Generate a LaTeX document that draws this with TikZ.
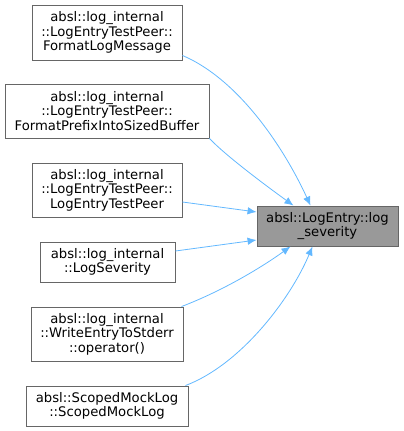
\documentclass[tikz,border=0pt]{standalone}
\usepackage{fontspec}
\setmainfont{DejaVu Sans}
\usetikzlibrary{arrows.meta}
\definecolor{edgecol}{HTML}{63B8FF}
\definecolor{boxborder}{HTML}{666666}
\definecolor{targetfill}{HTML}{999999}
\begin{document}
\begin{tikzpicture}[x=1pt,y=-1pt,
  box/.style={draw=boxborder, fill=white, line width=0.9pt, inner sep=0pt, align=center,
    font=\fontsize{13.2}{14.6}\selectfont, text=black},
  target/.style={box, fill=targetfill},
  edge/.style={draw=edgecol, line width=0.8pt, -{Latex[length=9pt,width=7.5pt]}}]
\useasboundingbox (0,0) rectangle (404,431);
\node[box, minimum width=150pt, minimum height=55pt] (n1) at (107,32.5) {absl::log\_internal\\::LogEntryTestPeer::\\FormatLogMessage};
\node[box, minimum width=204pt, minimum height=54pt] (n2) at (107,111) {absl::log\_internal\\::LogEntryTestPeer::\\FormatPrefixIntoSizedBuffer};
\node[box, minimum width=150pt, minimum height=54pt] (n3) at (107,190) {absl::log\_internal\\::LogEntryTestPeer::\\LogEntryTestPeer};
\node[box, minimum width=135pt, minimum height=40pt] (n4) at (107.5,262) {absl::log\_internal\\::LogSeverity};
\node[box, minimum width=152pt, minimum height=54pt] (n5) at (107,334) {absl::log\_internal\\::WriteEntryToStderr\\::operator()};
\node[box, minimum width=162pt, minimum height=40pt] (n6) at (107,406) {absl::ScopedMockLog\\::ScopedMockLog};
\node[target, minimum width=141pt, minimum height=40pt] (t) at (327.5,226) {absl::LogEntry::log\\\_severity};
\draw[edge] ([yshift=5pt]n1.south east) .. controls (240,80) and (285,150) .. ([xshift=-17pt]t.north);
\draw[edge] (n2.south east) .. controls (225,155) and (265,185) .. ([xshift=-34pt]t.north);
\draw[edge] ([yshift=-12pt]n3.east) -- ([yshift=14pt]t.west);
\draw[edge] ([yshift=11pt]n4.east) -- ([yshift=-14pt]t.west);
\draw[edge] ([xshift=-2pt]n5.north east) .. controls (225,290) and (265,265) .. ([xshift=-37pt]t.south);
\draw[edge] ([xshift=-3pt]n6.north east) .. controls (240,365) and (290,300) .. ([xshift=-15pt]t.south);
\end{tikzpicture}
\end{document}
